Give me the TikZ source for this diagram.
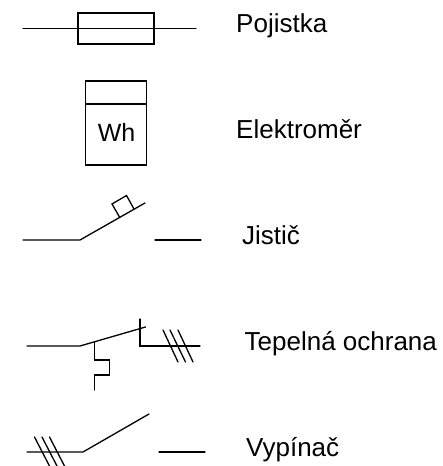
\documentclass[tikz,border=0pt]{standalone}
\usepackage{fontspec}
\setmainfont{Liberation Sans}
\tikzset{ln/.style={line width=1.3pt,black,line cap=round,line join=miter},lbl/.style={anchor=base west,font=\fontsize{26}{30}\selectfont,inner sep=0pt}}
\begin{document}
\begin{tikzpicture}[x=1pt,y=-1pt]
\useasboundingbox (0,0) rectangle (443,466);
% Pojistka
\coordinate (f1) at (23,28.5);\coordinate (f2) at (196,28.5);
\draw[ln] (f1)--(f2);
\node[draw,line width=1.3pt,minimum width=76pt,minimum height=31pt,inner sep=0pt] (fuse) at (116,28.5) {};
\node[lbl] (t1) at (236,32) {Pojistka};
% Elektromer
\node[draw,line width=1.3pt,minimum width=61pt,minimum height=84pt,inner sep=0pt] (meter) at (116,123) {};
\coordinate (m1) at (85.5,104);\coordinate (m2) at (146.5,104);
\draw[ln] (m1)--(m2);
\node[inner sep=0pt,font=\fontsize{25}{30}\selectfont,anchor=base] (wh) at (116.5,141) {Wh};
\node[lbl] (t2) at (236,138) {Elektroměr};
% Jistic
\coordinate (j1) at (23,240);\coordinate (j2) at (80,240);\coordinate (j3) at (145,203);
\coordinate (j4) at (155,240);\coordinate (j5) at (201,240);
\draw[ln] (j1)--(j2)--(j3);
\draw[ln] (j4)--(j5);
\draw[ln] (119.5,217) -- (112,204) -- (126.5,195.5) -- (134,209);
\node[lbl] (t3) at (242,244) {Jistič};
% Tepelna ochrana
\coordinate (t1a) at (27,346);\coordinate (t1b) at (80,346);\coordinate (t1c) at (145.5,327);
\draw[ln] (t1a)--(t1b)--(t1c);
\draw[ln] (140,319) -- (140,346) -- (200,346);
\draw[ln] (94.5,342) -- (94.5,360) -- (109.5,360) -- (109.5,375) -- (94.5,375) -- (94.5,390);
\draw[ln] (163,330)--(178,362);
\draw[ln] (170,330)--(185.5,362);
\draw[ln] (178,330)--(193,362);
\node[lbl] (t4) at (244.5,350) {Tepelná ochrana};
% Vypinac
\coordinate (v1) at (27,452);\coordinate (v2) at (83,452);\coordinate (v3) at (149,414);
\coordinate (v4) at (159,452);\coordinate (v5) at (205,452);
\draw[ln] (v1)--(v2)--(v3);
\draw[ln] (v4)--(v5);
\draw[ln] (34.5,437)--(49.5,466);
\draw[ln] (42,437)--(57,466);
\draw[ln] (49.5,437)--(64.5,466);
\node[lbl] (t5) at (246,456) {Vypínač};
\end{tikzpicture}
\end{document}
